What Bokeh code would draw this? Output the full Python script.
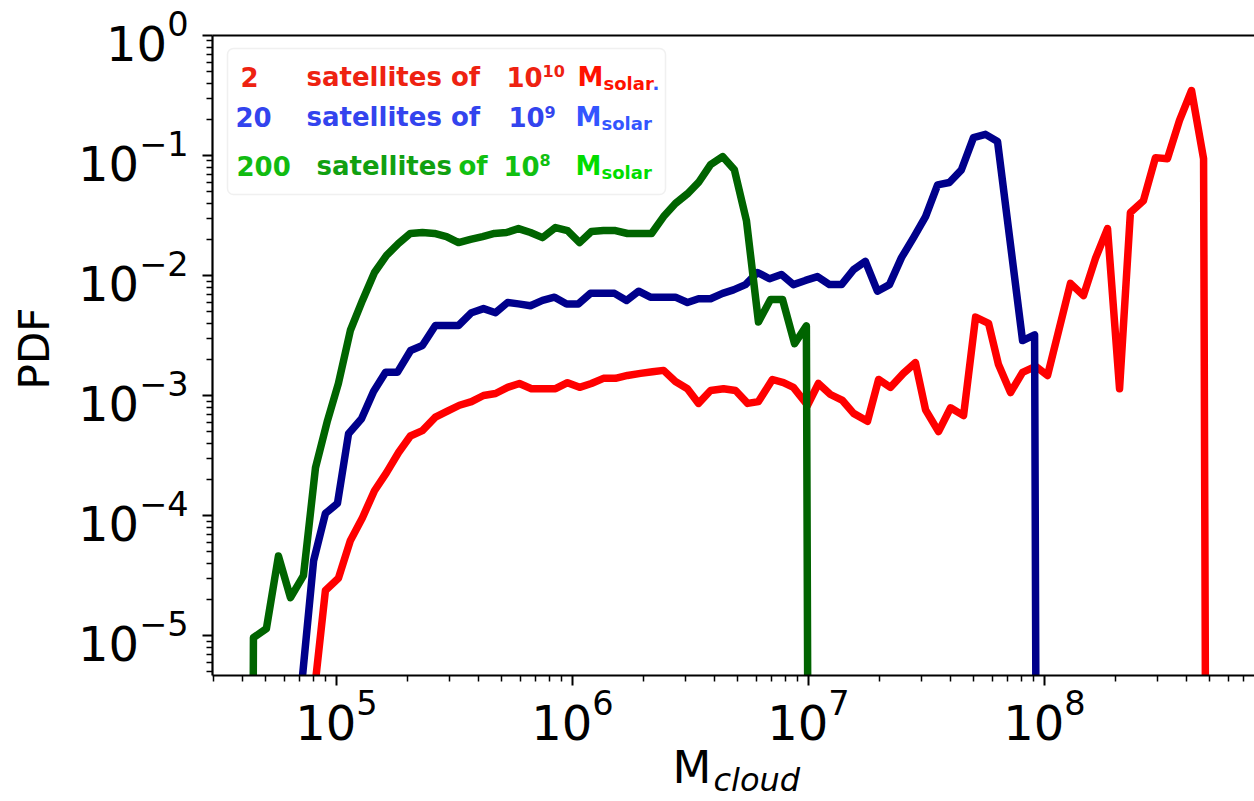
import numpy as np
from math import pi
from bokeh.plotting import figure
from bokeh.models import FixedTicker, LogAxis, Label, BoxAnnotation, Range1d
from bokeh.embed import file_html
from bokeh.resources import INLINE

# ---------------- data (log10 of cloud mass, PDF) ----------------
red_logm = [4.903, 4.953, 5.008, 5.059, 5.110, 5.161, 5.212, 5.263, 5.313, 5.364,
            5.419, 5.470, 5.521, 5.572, 5.623, 5.674, 5.725, 5.775, 5.826, 5.877,
            5.928, 5.979, 6.030, 6.080, 6.131, 6.182, 6.233, 6.288, 6.339, 6.386,
            6.436, 6.487, 6.534, 6.585, 6.640, 6.691, 6.742, 6.788, 6.847, 6.894,
            6.936, 6.996, 7.042, 7.093, 7.144, 7.191, 7.250, 7.297, 7.347, 7.402,
            7.453, 7.496, 7.551, 7.602, 7.657, 7.708, 7.763, 7.805, 7.856, 7.907,
            7.962, 8.013, 8.110, 8.165, 8.216, 8.267, 8.318, 8.364, 8.419, 8.470,
            8.521, 8.572, 8.623, 8.674, 8.725]
red_pdf = [3.0e-6, 2.37e-5, 3.0e-5, 6.2e-5, 9.6e-5, 1.61e-4, 2.28e-4, 3.35e-4, 4.6e-4, 5.1e-4,
           6.6e-4, 7.4e-4, 8.3e-4, 8.9e-4, 1.0e-3, 1.04e-3, 1.17e-3, 1.26e-3, 1.14e-3, 1.14e-3,
           1.14e-3, 1.28e-3, 1.17e-3, 1.26e-3, 1.39e-3, 1.39e-3, 1.47e-3, 1.53e-3, 1.58e-3, 1.62e-3,
           1.31e-3, 1.14e-3, 8.6e-4, 1.10e-3, 1.14e-3, 1.10e-3, 8.6e-4, 8.9e-4, 1.36e-3, 1.28e-3,
           1.17e-3, 8.3e-4, 1.26e-3, 1.02e-3, 9.1e-4, 7.1e-4, 6.1e-4, 1.36e-3, 1.17e-3, 1.53e-3,
           1.88e-3, 7.6e-4, 5.0e-4, 7.9e-4, 6.8e-4, 4.5e-3, 4.0e-3, 1.81e-3, 1.06e-3, 1.56e-3,
           1.75e-3, 1.47e-3, 8.6e-3, 6.8e-3, 1.39e-2, 2.46e-2, 1.14e-3, 3.35e-2, 4.2e-2, 9.6e-2,
           9.4e-2, 0.196, 0.348, 9.4e-2, 0]

blue_logm = [4.852, 4.903, 4.953, 5.004, 5.051, 5.106, 5.157, 5.208, 5.258, 5.314,
             5.364, 5.419, 5.470, 5.517, 5.572, 5.623, 5.674, 5.725, 5.771, 5.822,
             5.873, 5.924, 5.975, 6.025, 6.076, 6.127, 6.178, 6.229, 6.280, 6.330,
             6.386, 6.436, 6.487, 6.534, 6.585, 6.636, 6.682, 6.733, 6.784, 6.835,
             6.885, 6.936, 6.987, 7.038, 7.089, 7.140, 7.191, 7.241, 7.292, 7.343,
             7.394, 7.445, 7.496, 7.547, 7.597, 7.648, 7.699, 7.750, 7.801, 7.907,
             7.958, 8.008]
blue_pdf = [3.8e-6, 4.2e-5, 1.04e-4, 1.26e-4, 4.8e-4, 6.4e-4, 1.08e-3, 1.56e-3, 1.56e-3, 2.37e-3,
            2.61e-3, 3.83e-3, 3.83e-3, 3.83e-3, 4.9e-3, 5.3e-3, 4.9e-3, 5.96e-3, 5.8e-3, 5.6e-3,
            6.2e-3, 6.6e-3, 5.8e-3, 5.8e-3, 7.1e-3, 7.1e-3, 7.1e-3, 6.2e-3, 7.4e-3, 6.6e-3,
            6.6e-3, 6.6e-3, 5.96e-3, 6.4e-3, 6.4e-3, 7.1e-3, 7.6e-3, 8.4e-3, 1.06e-2, 9.4e-3,
            1.02e-2, 8.4e-3, 9.1e-3, 9.8e-3, 8.4e-3, 8.4e-3, 1.12e-2, 1.31e-2, 7.4e-3, 8.4e-3,
            1.41e-2, 2.07e-2, 3.1e-2, 5.7e-2, 5.96e-2, 7.6e-2, 0.141, 0.150, 0.131, 2.87e-3,
            3.2e-3, 0]

green_logm = [4.597, 4.648, 4.703, 4.754, 4.805, 4.860, 4.911, 4.962, 5.008, 5.059,
              5.110, 5.161, 5.212, 5.263, 5.313, 5.364, 5.415, 5.466, 5.517, 5.568,
              5.619, 5.669, 5.720, 5.771, 5.822, 5.873, 5.928, 5.979, 6.030, 6.080,
              6.131, 6.182, 6.233, 6.284, 6.335, 6.386, 6.436, 6.487, 6.534, 6.585,
              6.636, 6.686, 6.737, 6.788, 6.839, 6.890, 6.941, 6.991, 7.042]
green_pdf = [0, 9.6e-6, 1.14e-5, 4.6e-5, 2.07e-5, 3.16e-5, 2.5e-4, 6.2e-4, 1.26e-3, 3.5e-3,
             6.2e-3, 1.06e-2, 1.47e-2, 1.85e-2, 2.24e-2, 2.28e-2, 2.24e-2, 2.11e-2, 1.88e-2, 2.0e-2,
             2.11e-2, 2.24e-2, 2.28e-2, 2.46e-2, 2.28e-2, 2.07e-2, 2.51e-2, 2.37e-2, 1.88e-2, 2.33e-2,
             2.37e-2, 2.37e-2, 2.24e-2, 2.24e-2, 2.24e-2, 3.1e-2, 3.98e-2, 4.8e-2, 5.96e-2, 8.4e-2,
             9.8e-2, 7.6e-2, 2.87e-2, 4.1e-3, 6.3e-3, 6.3e-3, 2.7e-3, 3.8e-3, 0]

x_major_decades = [5, 6, 7, 8]
y_major_decades = [-5, -4, -3, -2, -1, 0]

# ---------------- geometry ----------------
LX0, LX1 = 4.4746, 8.8898      # log10 x-range of the axes box
LY0, LY1 = -5.333, 0.0         # log10 y-range of the axes box
W, H = 1254, 801
FL, FR, FT, FB = 212, 1254, 35, 675   # axes box edges (px)
PPX = (FR - FL) / (LX1 - LX0)         # px per decade (x)
PPY = (FB - FT) / (LY1 - LY0)         # px per decade (y)
LXF = LX0 - FL / PPX                  # the frame covers the whole canvas
LYF = LY0 - (H - FB) / PPY
LYT = LY1 + FT / PPY

p = figure(width=W, height=H, x_axis_type="log", y_axis_type="log",
           x_range=Range1d(10**LXF, 10**LX1), y_range=Range1d(10**LYF, 10**LYT),
           output_backend="svg", toolbar_location=None, title=None,
           min_border_left=0, min_border_right=0,
           min_border_top=0, min_border_bottom=0)
p.xgrid.visible = False
p.ygrid.visible = False
p.outline_line_color = None
p.background_fill_color = "white"
p.border_fill_color = "white"

def sx(px):
    return 10 ** (LX0 + (px - FL) / PPX)

def sy(py):
    return 10 ** (LY1 - (py - FT) / PPY)

XLEFT, XRIGHT, YBOT, YTOP = 10 ** LX0, 10 ** LX1, 10 ** LY0, 10 ** LY1
x_minor = [k * 10.0 ** d for d in range(4, 9) for k in range(2, 10) if k * 10.0 ** d >= XLEFT]
y_minor = [k * 10.0 ** d for d in range(-6, 0) for k in range(2, 10) if k * 10.0 ** d >= YBOT]
p.xaxis.ticker = FixedTicker(ticks=[10.0 ** d for d in x_major_decades], minor_ticks=x_minor)
p.yaxis.ticker = FixedTicker(ticks=[10.0 ** d for d in y_major_decades], minor_ticks=y_minor)
p.xaxis.fixed_location = YBOT
p.yaxis.fixed_location = XLEFT
p.xaxis.bounds = (XLEFT, XRIGHT)
p.yaxis.bounds = (YBOT, YTOP)

for ax in (p.xaxis[0], p.yaxis[0]):
    ax.axis_line_width = 2.2
    ax.axis_line_color = "black"
    ax.major_tick_line_width = 2
    ax.minor_tick_line_width = 1.5
    ax.major_tick_out = 10
    ax.major_tick_in = 0
    ax.minor_tick_out = 6
    ax.minor_tick_in = 0
    ax.major_label_text_font = "DejaVu Sans"
    ax.major_label_text_font_size = "48px"
    ax.major_label_text_color = "black"
p.xaxis.major_label_standoff = 3
p.yaxis.major_label_standoff = 14

top = LogAxis(ticker=FixedTicker(ticks=[]), axis_line_width=2.2, axis_line_color="black",
              major_tick_out=0, minor_tick_out=0, major_label_text_font_size="0px",
              bounds=(XLEFT, XRIGHT), fixed_location=YTOP)
p.add_layout(top, "above")

# ---------------- curves ----------------
def clip(v):
    v = np.asarray(v, dtype=float)
    return np.where(v > 0, v, 1e-30)   # non-positive values clipped as in a log plot

for logm, pdf, col in [(red_logm, red_pdf, "#ff0000"),
                       (blue_logm, blue_pdf, "#00008b"),
                       (green_logm, green_pdf, "#006400")]:
    p.line(10 ** np.asarray(logm), clip(pdf), line_color=col, line_width=7.5,
           line_join="round")

# white masks outside the axes box (below the x axis, left of the y axis)
p.add_layout(BoxAnnotation(bottom=10 ** LYF, top=YBOT, fill_color="white", fill_alpha=1.0,
                           line_color=None, level="glyph"))
p.add_layout(BoxAnnotation(left=10 ** LXF, right=XLEFT, fill_color="white", fill_alpha=1.0,
                           line_color=None, level="glyph"))

# ---------------- legend box ----------------
p.add_layout(BoxAnnotation(left=sx(227), right=sx(665), top=sy(48), bottom=sy(194),
                           fill_color="white", fill_alpha=0.85, line_color="#cccccc",
                           line_width=1.5, border_radius=6))

BASE_SHIFT = 0.42   # rendered alphabetic baseline sits ~0.42 em below the anchor

def lab(text, px, py, size, color, style="bold", font="DejaVu Sans"):
    fs = float(size.replace("px", ""))
    p.add_layout(Label(x=sx(px), y=sy(py - BASE_SHIFT * fs), text=text, text_font=font,
                       text_font_style=style, text_font_size=size, text_color=color,
                       text_align="left", text_baseline="alphabetic"))

R1, R2 = "#ee2211", "#3344ee"
# row 1
lab("2", 240, 87, "26px", R1)
lab("satellites of", 306, 87, "26px", R1)
lab("10", 506, 87, "26px", R1)
lab("10", 542, 77, "16px", R1)
lab("M", 577, 87, "26px", "#ff1100")
lab("solar", 603, 91, "18px", "#ff1100")
lab(".", 652, 91, "18px", "#3355ff")
# row 2
lab("20", 235, 127, "26px", R2)
lab("satellites of", 306, 127, "26px", R2)
lab("10", 508, 127, "26px", R2)
lab("9", 544, 118, "16px", R2)
lab("M", 575, 127, "26px", "#3355ff")
lab("solar", 601, 131, "18px", "#3355ff")
# row 3
lab("200", 236, 176, "26px", "#11bb11")
lab("satellites", 316, 176, "26px", "#11a011")
lab("of", 458, 176, "26px", "#11c011")
lab("10", 503, 176, "26px", "#11c011")
lab("8", 539, 166, "16px", "#11c011")
lab("M", 575, 176, "26px", "#00dd00")
lab("solar", 601, 180, "18px", "#00dd00")

# ---------------- axis titles ----------------
lab("M", 672, 786, "45px", "black", style="normal")
lab("cloud", 713, 793, "32px", "black", style="italic")
p.add_layout(Label(x=sx(52 - BASE_SHIFT * 42), y=sy(348), text="PDF", text_font="DejaVu Sans",
                   text_font_size="42px", text_color="black", angle=pi / 2,
                   text_align="center", text_baseline="alphabetic"))

open("out.html", "w").write(file_html(p, INLINE))
